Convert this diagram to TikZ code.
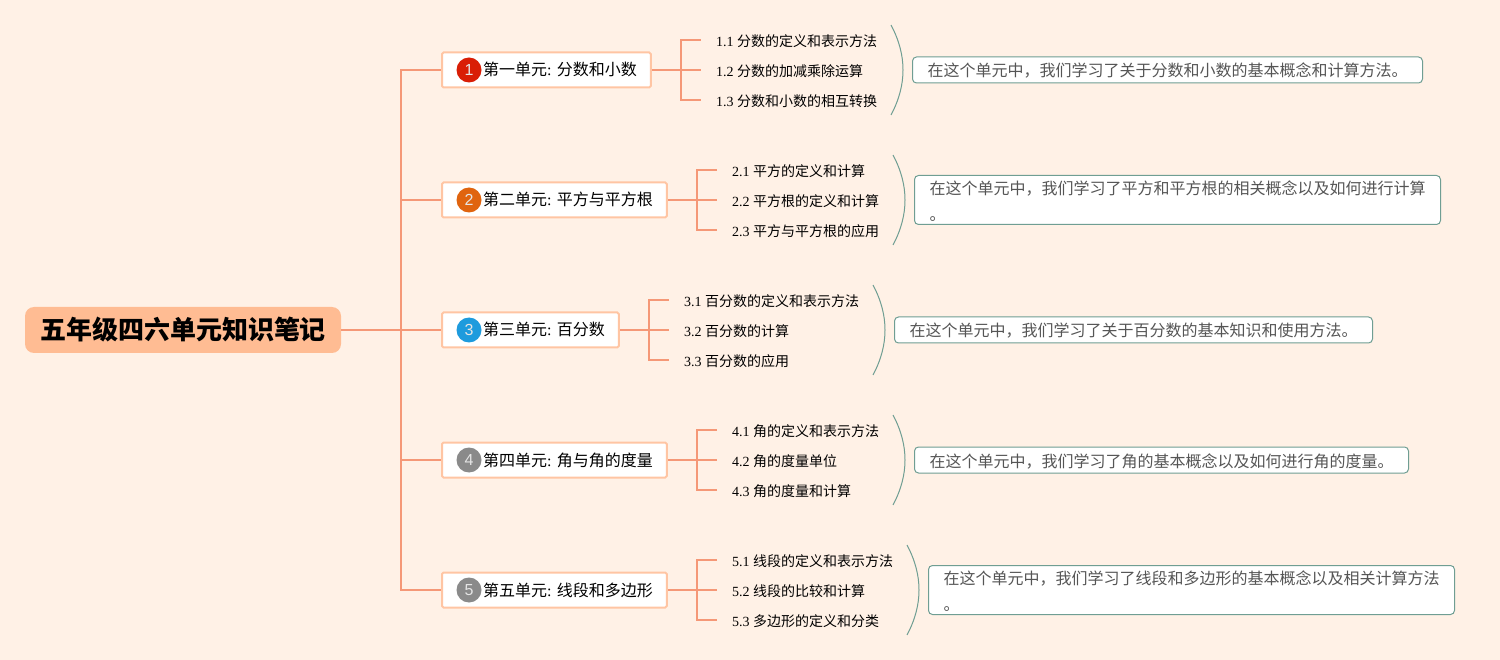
\documentclass[tikz,border=0pt]{standalone}
\usepackage{fontspec}
\setmainfont{Noto Sans CJK SC}
\newfontfamily\latinf{Liberation Serif}
\newfontfamily\iconf{Liberation Sans}
\newcommand{\lat}[1]{{\latinf #1}}
\definecolor{bgc}{HTML}{FFF1E6}
\definecolor{linkc}{HTML}{F59877}
\definecolor{rootc}{HTML}{FFBC93}
\definecolor{unitc}{HTML}{FFC5A3}
\definecolor{notec}{HTML}{6F9E93}
\definecolor{notet}{HTML}{555555}
\definecolor{ired}{HTML}{D91E06}
\definecolor{iorange}{HTML}{E0640F}
\definecolor{iblue}{HTML}{1E9BDD}
\definecolor{igray}{HTML}{8A8A8A}
\tikzset{
  link/.style={draw=linkc,line width=2pt},
  rootbox/.style={fill=rootc,rounded corners=9pt,minimum width=316pt,minimum height=46pt,inner sep=0pt,font=\fontsize{26}{30}\selectfont\bfseries,text=black},
  unitbox/.style={draw=unitc,fill=white,line width=2pt,rounded corners=1.5pt,anchor=west,minimum height=35pt,inner xsep=14pt,inner ysep=0pt,text height=15pt,text depth=3pt,font=\fontsize{16}{20}\selectfont,text=black},
  icon/.style={circle,minimum size=25pt,inner sep=0pt,text=white!90!black,font=\iconf\fontsize{16}{20}\selectfont},
  leaf/.style={anchor=west,inner xsep=15pt,inner ysep=2pt,font=\fontsize{14}{18}\selectfont,text=black},
  notebox/.style={draw=notec,fill=white,line width=1pt,rounded corners=4pt,anchor=north west,inner xsep=15pt,inner ysep=0pt,align=left,text=notet,font=\fontsize{16}{26}\selectfont},
  bracket/.style={draw=notec,line width=1pt},
}
\newcommand{\gap}{\hspace*{27pt}}
\begin{document}
\begin{tikzpicture}[x=1pt,y=-1pt]
\path[fill=bgc,use as bounding box] (0,0) rectangle (1500,660);

\node[rootbox] (root) at (183,330) {五年级四六单元知识笔记};

\node[unitbox] (u1) at (441,70) {\gap 第一单元\lat{: }分数和小数};
\node[unitbox] (u2) at (441,200) {\gap 第二单元\lat{: }平方与平方根};
\node[unitbox] (u3) at (441,330) {\gap 第三单元\lat{: }百分数};
\node[unitbox] (u4) at (441,460) {\gap 第四单元\lat{: }角与角的度量};
\node[unitbox] (u5) at (441,590) {\gap 第五单元\lat{: }线段和多边形};

\node[icon,fill=ired] (i1) at (469,70) {1};
\node[icon,fill=iorange] (i2) at (469,200) {2};
\node[icon,fill=iblue] (i3) at (469,330) {3};
\node[icon,fill=igray] (i4) at (469,460) {4};
\node[icon,fill=igray] (i5) at (469,590) {5};

\coordinate (trunk) at (401,330);
\draw[link] (root.east) -- (u3.west);
\foreach \u in {u1,u2,u4,u5} \draw[link] (trunk) |- (\u.west);

\node[leaf] (l11) at (701,41) {\lat{1.1 }分数的定义和表示方法};
\node[leaf] (l12) at (701,71) {\lat{1.2 }分数的加减乘除运算};
\node[leaf] (l13) at (701,101) {\lat{1.3 }分数和小数的相互转换};
\node[leaf] (l21) at (717,171) {\lat{2.1 }平方的定义和计算};
\node[leaf] (l22) at (717,201) {\lat{2.2 }平方根的定义和计算};
\node[leaf] (l23) at (717,231) {\lat{2.3 }平方与平方根的应用};
\node[leaf] (l31) at (669,301) {\lat{3.1 }百分数的定义和表示方法};
\node[leaf] (l32) at (669,331) {\lat{3.2 }百分数的计算};
\node[leaf] (l33) at (669,361) {\lat{3.3 }百分数的应用};
\node[leaf] (l41) at (717,431) {\lat{4.1 }角的定义和表示方法};
\node[leaf] (l42) at (717,461) {\lat{4.2 }角的度量单位};
\node[leaf] (l43) at (717,491) {\lat{4.3 }角的度量和计算};
\node[leaf] (l51) at (717,561) {\lat{5.1 }线段的定义和表示方法};
\node[leaf] (l52) at (717,591) {\lat{5.2 }线段的比较和计算};
\node[leaf] (l53) at (717,621) {\lat{5.3 }多边形的定义和分类};

\coordinate (b1) at (681,70);
\coordinate (b2) at (697,200);
\coordinate (b3) at (649,330);
\coordinate (b4) at (697,460);
\coordinate (b5) at (697,590);
\foreach \n in {1,2,3,4,5}{
  \draw[link] (u\n.east) -- (b\n);
  \draw[link] (b\n) -- (b\n -| l\n2.west);
  \draw[link] (b\n) |- ([yshift=1pt]l\n1.west);
  \draw[link] (b\n) |- ([yshift=1pt]l\n3.west);
}

\foreach \n/\x/\y in {1/891/25,2/893/155,3/873/285,4/893/415,5/907/545}{
  \coordinate (t\n) at (\x,\y);
  \coordinate (e\n) at (\x,\y+90);
  \draw[bracket] (t\n) .. controls (\x+16,\y+30) and (\x+16,\y+60) .. (e\n);
}

\node[notebox] (n1) at (912,56.5) {\rule{0pt}{20pt}在这个单元中，我们学习了关于分数和小数的基本概念和计算方法。\rule[-6pt]{0pt}{6pt}};
\node[notebox] (n2) at (914,175) {\rule{0pt}{19pt}在这个单元中，我们学习了平方和平方根的相关概念以及如何进行计算\\。\rule[-4pt]{0pt}{4pt}};
\node[notebox] (n3) at (894,316.5) {\rule{0pt}{20pt}在这个单元中，我们学习了关于百分数的基本知识和使用方法。\rule[-6pt]{0pt}{6pt}};
\node[notebox] (n4) at (914,446.5) {\rule{0pt}{20pt}在这个单元中，我们学习了角的基本概念以及如何进行角的度量。\rule[-6pt]{0pt}{6pt}};
\node[notebox] (n5) at (928,565) {\rule{0pt}{19pt}在这个单元中，我们学习了线段和多边形的基本概念以及相关计算方法\\。\rule[-4pt]{0pt}{4pt}};
\end{tikzpicture}
\end{document}
